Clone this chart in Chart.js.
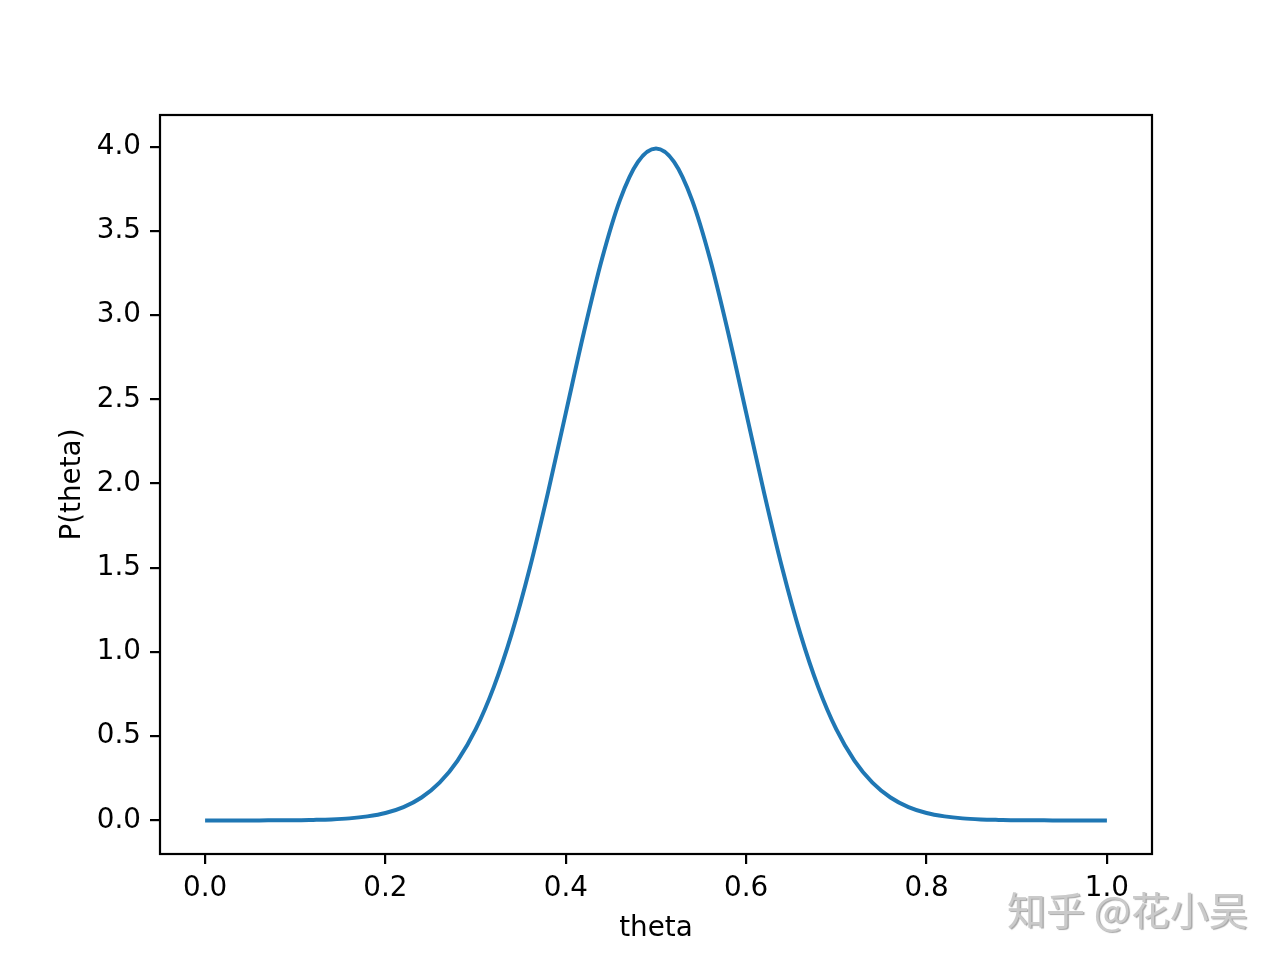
<!DOCTYPE html>
<html>
<head>
<meta charset="utf-8">
<script src="https://cdn.jsdelivr.net/npm/chart.js"></script>
<style>
  html, body { margin: 0; padding: 0; background: #fff; }
  canvas { display: block; }
</style>
</head>
<body>
<canvas id="chart" width="1280" height="960"></canvas>
<script>
const thetaValues = [
  0.00, 0.02, 0.04, 0.06, 0.08, 0.10, 0.12, 0.14, 0.16, 0.18,
  0.20, 0.22, 0.24, 0.26, 0.28, 0.30, 0.32, 0.34, 0.36, 0.38,
  0.40, 0.42, 0.44, 0.46, 0.48, 0.50, 0.52, 0.54, 0.56, 0.58,
  0.60, 0.62, 0.64, 0.66, 0.68, 0.70, 0.72, 0.74, 0.76, 0.78,
  0.80, 0.82, 0.84, 0.86, 0.88, 0.90, 0.92, 0.94, 0.96, 0.98, 1.00
];
const densityValues = [
  0.000, 0.000, 0.000, 0.000, 0.001, 0.001, 0.003, 0.006, 0.012, 0.024,
  0.044, 0.079, 0.136, 0.224, 0.355, 0.540, 0.790, 1.109, 1.497, 1.942,
  2.420, 2.897, 3.332, 3.683, 3.910, 3.989, 3.910, 3.683, 3.332, 2.897,
  2.420, 1.942, 1.497, 1.109, 0.790, 0.540, 0.355, 0.224, 0.136, 0.079,
  0.044, 0.024, 0.012, 0.006, 0.003, 0.001, 0.001, 0.000, 0.000, 0.000, 0.000
];
const xTickValues = [0.0, 0.2, 0.4, 0.6, 0.8, 1.0];
const yTickValues = [0.0, 0.5, 1.0, 1.5, 2.0, 2.5, 3.0, 3.5, 4.0];
const xLabel = 'theta';
const yLabel = 'P(theta)';
const watermark = '知乎 @花小吴';

const baseFont = { family: "'DejaVu Sans', sans-serif", size: 27.8 };

const framePlugin = {
  id: 'frame',
  beforeDraw(chart) {
    const ctx = chart.ctx;
    ctx.save();
    ctx.fillStyle = '#ffffff';
    ctx.fillRect(0, 0, chart.width, chart.height);
    ctx.restore();
  },
  afterDraw(chart) {
    const { ctx, chartArea: a } = chart;
    ctx.save();
    ctx.strokeStyle = '#000000';
    ctx.lineWidth = 2.2;
    ctx.strokeRect(a.left, a.top, a.right - a.left, a.bottom - a.top);
    ctx.font = "39px 'Noto Sans CJK SC', sans-serif";
    ctx.textBaseline = 'middle';
    ctx.textAlign = 'left';
    ctx.shadowColor = 'rgba(110,110,110,0.6)';
    ctx.shadowOffsetX = 1.5;
    ctx.shadowOffsetY = 1.5;
    ctx.shadowBlur = 1;
    ctx.fillStyle = '#cacaca';
    ctx.fillText(watermark, 1007, 910);
    ctx.restore();
  }
};

new Chart(document.getElementById('chart').getContext('2d'), {
  type: 'line',
  data: {
    datasets: [{
      data: thetaValues.map((t, i) => ({ x: t, y: densityValues[i] })),
      borderColor: '#1f77b4',
      borderWidth: 4,
      pointRadius: 0,
      fill: false,
      cubicInterpolationMode: 'monotone'
    }]
  },
  options: {
    responsive: false,
    animation: false,
    layout: { padding: { left: 0, top: 115, right: 128, bottom: 0 } },
    plugins: { legend: { display: false }, tooltip: { enabled: false } },
    scales: {
      x: {
        type: 'linear',
        min: -0.05,
        max: 1.05,
        afterBuildTicks: s => { s.ticks = xTickValues.map(v => ({ value: v })); },
        afterFit: s => { s.height = 106; },
        border: { display: false },
        grid: { drawOnChartArea: false, drawTicks: true, tickLength: 10, color: '#000', lineWidth: 2.2 },
        ticks: { color: '#000', font: baseFont, padding: 8, maxRotation: 0, callback: v => v.toFixed(1) },
        title: { display: true, text: xLabel, color: '#000', font: baseFont, padding: { top: 0, bottom: 15 } }
      },
      y: {
        type: 'linear',
        min: -0.1995,
        max: 4.1885,
        afterBuildTicks: s => { s.ticks = yTickValues.map(v => ({ value: v })); },
        afterFit: s => { s.width = 160; },
        border: { display: false },
        grid: { drawOnChartArea: false, drawTicks: true, tickLength: 10, color: '#000', lineWidth: 2.2 },
        ticks: { color: '#000', font: baseFont, padding: 9, callback: v => v.toFixed(1) },
        title: { display: true, text: yLabel, color: '#000', font: baseFont, padding: { top: 56, bottom: 0 } }
      }
    }
  },
  plugins: [framePlugin]
});
</script>
</body>
</html>
